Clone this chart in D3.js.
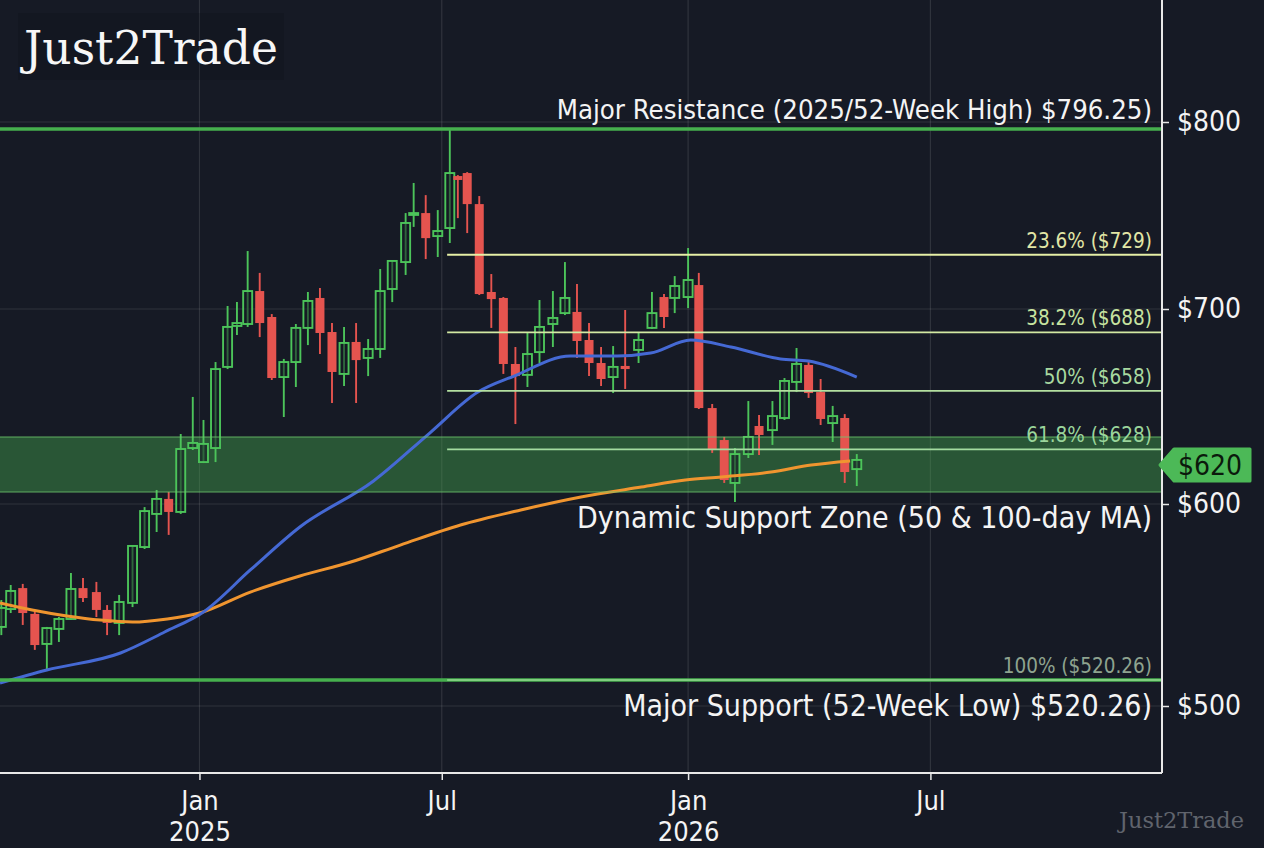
<!DOCTYPE html>
<html lang="en">
<meta charset="utf-8">
<title>Just2Trade</title>
<style>
    html, body { margin: 0; padding: 0; background: #161a25; }
    svg { display: block; }
</style>
<body>
<svg id="canvas"></svg>
<script src="https://cdn.jsdelivr.net/npm/d3@7"></script>
<script>

    ////////////////////// Data ///////////////////////
    var candle_dates = [
        "2024-08-06", "2024-08-13", "2024-08-22", "2024-08-31", "2024-09-09", "2024-09-18",
        "2024-09-27", "2024-10-06", "2024-10-16", "2024-10-24", "2024-11-02", "2024-11-12",
        "2024-11-21", "2024-11-30", "2024-12-09", "2024-12-18", "2024-12-27",
        "2025-01-04", "2025-01-13", "2025-01-22", "2025-01-29", "2025-02-06", "2025-02-15",
        "2025-02-24", "2025-03-05", "2025-03-14", "2025-03-23", "2025-04-01", "2025-04-10",
        "2025-04-19", "2025-04-28", "2025-05-07", "2025-05-16", "2025-05-25", "2025-06-04",
        "2025-06-10", "2025-06-19", "2025-06-28", "2025-07-07", "2025-07-13", "2025-07-20",
        "2025-07-29", "2025-08-07", "2025-08-16", "2025-08-25", "2025-09-03", "2025-09-12",
        "2025-09-22", "2025-10-01", "2025-10-10", "2025-10-19", "2025-10-28", "2025-11-06",
        "2025-11-15", "2025-11-25", "2025-12-05", "2025-12-14", "2025-12-22",
        "2026-01-01", "2026-01-09", "2026-01-19", "2026-01-28", "2026-02-05", "2026-02-15",
        "2026-02-23", "2026-03-05", "2026-03-14", "2026-03-23", "2026-04-01", "2026-04-10",
        "2026-04-19", "2026-04-28", "2026-05-07"
    ];
    var candle_open = [
        544.3, 552.4, 561.9, 550.2, 536.6, 543.4, 547.9, 561.9, 560.1, 552.0, 546.1, 555.2,
        580.5, 595.5, 602.6, 596.4, 628.7, 621.5, 628.7, 670.3, 691.3, 692.3, 709.6, 695.9,
        665.1, 672.8, 690.3, 705.9, 688.2, 666.7, 683.1, 674.9, 679.5, 710.7, 725.1, 750.3,
        751.3, 739.0, 743.3, 771.1, 772.7, 756.1, 709.1, 705.9, 671.8, 666.2, 677.9, 692.3,
        697.9, 698.5, 684.1, 672.3, 665.1, 670.8, 679.0, 690.3, 706.4, 705.9, 706.4, 712.8,
        649.2, 632.8, 610.8, 625.6, 640.0, 637.9, 644.1, 662.6, 671.3, 657.4, 641.5, 644.1,
        617.9
    ];
    var candle_high = [
        556.5, 563.3, 563.8, 551.1, 544.3, 548.8, 568.7, 566.5, 564.7, 554.2, 558.8, 581.4,
        598.6, 607.2, 606.2, 635.9, 654.9, 643.1, 672.8, 701.6, 703.7, 731.0, 719.3, 697.4,
        674.4, 692.3, 709.1, 711.2, 692.8, 690.8, 692.8, 684.6, 721.4, 726.0, 751.3, 767.4,
        760.9, 752.9, 796.25, 771.6, 773.2, 760.4, 718.7, 706.4, 680.5, 687.7, 704.8, 709.6,
        725.1, 713.4, 692.8, 680.5, 681.0, 699.5, 688.2, 709.1, 708.0, 717.6, 732.6, 719.3,
        651.3, 634.4, 628.7, 652.8, 645.6, 652.8, 664.6, 680.0, 672.8, 664.1, 650.3, 646.1,
        625.6
    ];
    var candle_low = [
        540.6, 550.6, 545.2, 533.9, 524.8, 537.5, 547.4, 555.6, 548.8, 540.6, 540.6, 553.3,
        579.6, 587.3, 586.0, 595.5, 627.7, 621.0, 621.5, 669.2, 686.7, 690.8, 685.6, 663.6,
        644.6, 660.0, 681.5, 676.9, 651.8, 660.5, 651.8, 665.6, 674.9, 703.7, 718.2, 743.9,
        726.7, 727.8, 735.3, 748.6, 740.6, 707.5, 690.3, 666.7, 641.0, 660.0, 672.3, 680.5,
        696.9, 674.9, 665.6, 660.5, 656.9, 659.0, 672.3, 689.8, 690.3, 697.9, 700.5, 648.7,
        626.2, 610.8, 601.0, 623.6, 625.1, 630.3, 643.1, 657.4, 654.4, 640.5, 631.8, 610.8,
        609.2
    ];
    var candle_close = [
        552.9, 560.6, 550.6, 536.1, 543.8, 547.9, 561.5, 557.4, 552.0, 546.1, 555.6, 581.0,
        596.8, 602.6, 596.4, 628.2, 631.3, 630.8, 669.2, 690.8, 692.8, 709.6, 692.8, 664.6,
        672.8, 690.3, 704.3, 687.7, 667.7, 682.6, 673.8, 679.5, 709.6, 725.7, 746.0, 751.3,
        737.9, 741.7, 772.7, 769.0, 756.1, 708.0, 705.3, 671.8, 665.6, 676.9, 690.8, 695.4,
        705.9, 683.6, 672.3, 664.1, 670.3, 669.2, 684.1, 697.9, 695.9, 712.3, 715.5, 649.2,
        627.7, 612.3, 625.6, 634.4, 635.4, 645.1, 663.1, 671.8, 656.9, 643.6, 645.1, 616.4,
        622.6
    ];

    // 50-day MA (blue)
    var ma50_dates = [
        "2024-08-05", "2024-09-09", "2024-11-03", "2024-12-06", "2025-01-04", "2025-02-08",
        "2025-03-17", "2025-05-11", "2025-06-22", "2025-07-28", "2025-08-24", "2025-10-05",
        "2025-11-09", "2025-12-04", "2026-01-03", "2026-02-02", "2026-03-11", "2026-04-01",
        "2026-05-07"
    ];
    var ma50_values = [
        517.9, 524.8, 532.5, 542.0, 551.1, 570.1, 589.6, 611.8, 636.4, 657.4, 665.6, 675.9,
        675.9, 677.4, 684.1, 680.5, 674.4, 673.3, 665.1
    ];

    // 100-day MA (orange)
    var ma100_dates = [
        "2024-08-05", "2024-08-29", "2024-09-24", "2024-10-19", "2024-11-12", "2024-12-08",
        "2025-01-01", "2025-02-08", "2025-03-17", "2025-04-24", "2025-05-31", "2025-07-15",
        "2025-08-29", "2025-10-13", "2025-11-27", "2025-12-30", "2026-01-26", "2026-03-04",
        "2026-04-03", "2026-05-02"
    ];
    var ma100_values = [
        555.2, 552.0, 549.3, 547.4, 546.5, 547.9, 550.6, 560.1, 567.4, 573.7, 581.4, 590.5,
        597.3, 603.6, 608.7, 612.3, 613.9, 616.4, 620.0, 622.1
    ];

    var y_ticks      = [500, 600, 700, 800];
    var x_ticks      = ["2025-01-01", "2025-07-01", "2026-01-01", "2026-07-01"];

    var fib_names    = ["23.6%", "38.2%", "50%", "61.8%", "100%"];
    var fib_values   = [729, 688, 658, 628, 520.26];
    var fib_text     = ["($729)", "($688)", "($658)", "($628)", "($520.26)"];
    var fib_start    = "2025-07-05";

    var resistance   = 796.25;
    var support      = 520.26;
    var zone         = [606.2, 634.4];
    var last_price   = 620;
    ///////////////////////////////////////////////////

    ///////// Position and Dimension Variables ////////
    var dimensions   = [1264, 848];
    var plot_right   = 1162;
    var plot_bottom  = 773;
    var body_width   = 9;
    var label_right  = 1152;
    ///////////////////////////////////////////////////

    ///////////////// Style Variables /////////////////
    var BG_color     = '#161a25';
    var grid_color   = 'rgba(255,255,255,0.11)';
    var axis_color   = '#e8e8e8';
    var up_color     = '#4cc45a';
    var down_color   = '#e5544f';
    var ma50_color   = '#4569d4';
    var ma100_color  = '#f0952f';
    var level_color  = '#46b04e';
    var fib_colors   = ['#e6efa6', '#d3e9a3', '#b4e0a0', '#a3dc9f', '#7fce7f'];
    var fib_fonts    = ['#e2e6a6', '#c7e3a0', '#a8d9a0', '#9ad59b', '#8ea38f'];
    var sans         = '"DejaVu Sans Condensed", "DejaVu Sans", sans-serif';
    var serif        = '"DejaVu Serif", serif';
    ///////////////////////////////////////////////////

    var parse = function (s) { return new Date(s); };

    var candles = candle_dates.map(function (d, i) {
        return { date: parse(d), open: candle_open[i], high: candle_high[i],
                 low: candle_low[i], close: candle_close[i] };
    });

    var x = d3.scaleUtc()
        .domain([parse("2024-08-05"), parse("2026-12-21")])
        .range([0, plot_right]);

    // price axis of the picture is not evenly spaced, so we pin it at its marks
    var y = d3.scaleLinear()
        .domain([500, support, 600, 700, 800])
        .range([706, 680, 504, 309, 122]);

    //////////////////// BG layer /////////////////////
    var canvas = d3.select("#canvas")
        .attr('width',  dimensions[0])
        .attr('height', dimensions[1])
        .style('background-color', BG_color);
    ///////////////////////////////////////////////////

    ////////////////////// grid ///////////////////////
    var grid = canvas.append("g");
    grid.selectAll("line.h").data(y_ticks).enter().append("line")
        .attr('x1', 0).attr('x2', plot_right)
        .attr('y1', function (d) { return y(d); })
        .attr('y2', function (d) { return y(d); })
        .attr('stroke', grid_color).attr('stroke-width', 1.2);
    grid.selectAll("line.v").data(x_ticks).enter().append("line")
        .attr('x1', function (d) { return x(parse(d)); })
        .attr('x2', function (d) { return x(parse(d)); })
        .attr('y1', 0).attr('y2', plot_bottom)
        .attr('stroke', grid_color).attr('stroke-width', 1.2);
    ///////////////////////////////////////////////////

    ///////////////// support zone ////////////////////
    canvas.append("rect")
        .attr('x', 0)
        .attr('y', y(zone[1]))
        .attr('width', plot_right)
        .attr('height', y(zone[0]) - y(zone[1]))
        .attr('fill', 'rgba(70,170,78,0.42)');
    ///////////////////////////////////////////////////

    ///////////////////// candles /////////////////////
    var candle = canvas.append("g").selectAll("g")
        .data(candles).enter().append("g");
    candle.append("line")
        .attr('x1', function (d) { return x(d.date); })
        .attr('x2', function (d) { return x(d.date); })
        .attr('y1', function (d) { return y(d.high); })
        .attr('y2', function (d) { return y(d.low); })
        .attr('stroke', function (d) { return d.close >= d.open ? up_color : down_color; })
        .attr('stroke-width', 1.9);
    candle.append("rect")
        .attr('x', function (d) { return x(d.date) - body_width / 2; })
        .attr('y', function (d) { return y(Math.max(d.open, d.close)); })
        .attr('width', body_width)
        .attr('height', function (d) {
            return Math.max(1.5, Math.abs(y(d.open) - y(d.close)));
        })
        .attr('fill', function (d) { return d.close >= d.open ? 'rgba(22,26,37,0.55)' : down_color; })
        .attr('stroke', function (d) { return d.close >= d.open ? up_color : 'none'; })
        .attr('stroke-width', 1.9);
    ///////////////////////////////////////////////////

    ////////////////// moving averages ////////////////
    var ma_line = d3.line()
        .x(function (d) { return x(d[0]); })
        .y(function (d) { return y(d[1]); })
        .curve(d3.curveMonotoneX);
    canvas.append("path")
        .datum(ma100_dates.map(function (d, i) { return [parse(d), ma100_values[i]]; }))
        .attr('d', ma_line)
        .attr('fill', 'none')
        .attr('stroke', ma100_color)
        .attr('stroke-width', 3);
    canvas.append("path")
        .datum(ma50_dates.map(function (d, i) { return [parse(d), ma50_values[i]]; }))
        .attr('d', ma_line)
        .attr('fill', 'none')
        .attr('stroke', ma50_color)
        .attr('stroke-width', 3);
    ///////////////////////////////////////////////////

    ///////////// zone edges, key levels //////////////
    canvas.selectAll("line.zone").data(zone).enter().append("line")
        .attr('x1', 0).attr('x2', plot_right)
        .attr('y1', function (d) { return y(d); })
        .attr('y2', function (d) { return y(d); })
        .attr('stroke', 'rgba(110,200,110,0.55)')
        .attr('stroke-width', 1.5);
    canvas.selectAll("line.level").data([resistance, support]).enter().append("line")
        .attr('x1', 0).attr('x2', plot_right)
        .attr('y1', function (d) { return y(d); })
        .attr('y2', function (d) { return y(d); })
        .attr('stroke', level_color)
        .attr('stroke-width', 3.4);
    ///////////////////////////////////////////////////

    //////////////////// fib levels ///////////////////
    var fib = canvas.append("g").selectAll("g")
        .data(fib_values).enter().append("g");
    fib.append("line")
        .attr('x1', x(parse(fib_start)))
        .attr('x2', plot_right)
        .attr('y1', function (d) { return y(d); })
        .attr('y2', function (d) { return y(d); })
        .attr('stroke', function (d, i) { return fib_colors[i]; })
        .attr('stroke-width', function (d, i) { return i == 4 ? 2.2 : 1.9; });
    fib.append("text")
        .attr('x', label_right)
        .attr('y', function (d) { return y(d) - 7; })
        .text(function (d, i) { return fib_names[i] + " " + fib_text[i]; })
        .attr('text-anchor', 'end')
        .attr('fill', function (d, i) { return fib_fonts[i]; })
        .attr('font-family', sans)
        .attr('font-size', 20.5);
    ///////////////////////////////////////////////////

    ///////////////// annotations /////////////////////
    var notes = [
        { text: "Major Resistance (2025/52-Week High) $796.25)", y: y(resistance) - 10, size: 27.3 },
        { text: "Dynamic Support Zone (50 & 100-day MA)",          y: y(zone[0]) + 36,   size: 30 },
        { text: "Major Support (52-Week Low) $520.26)",            y: y(support) + 36,   size: 30 }
    ];
    canvas.selectAll("text.note").data(notes).enter().append("text")
        .attr('x', label_right)
        .attr('y', function (d) { return d.y; })
        .text(function (d) { return d.text; })
        .attr('text-anchor', 'end')
        .attr('fill', '#f4f4f4')
        .attr('font-family', sans)
        .attr('font-size', function (d) { return d.size; });
    ///////////////////////////////////////////////////

    ////////////////////// axes ///////////////////////
    canvas.append("line")
        .attr('x1', plot_right).attr('x2', plot_right)
        .attr('y1', 0).attr('y2', plot_bottom)
        .attr('stroke', axis_color).attr('stroke-width', 2);
    canvas.append("line")
        .attr('x1', 0).attr('x2', plot_right)
        .attr('y1', plot_bottom).attr('y2', plot_bottom)
        .attr('stroke', axis_color).attr('stroke-width', 2);

    var y_axis = canvas.append("g")
        .attr('transform', 'translate(' + plot_right + ',0)')
        .call(d3.axisRight(y).tickValues(y_ticks).tickSize(7).tickPadding(8)
                .tickFormat(function (d) { return "$" + d; }));
    y_axis.select(".domain").remove();
    y_axis.selectAll("line").attr('stroke', axis_color).attr('stroke-width', 1.5);
    y_axis.selectAll("text")
        .attr('fill', '#f4f4f4')
        .attr('font-family', sans)
        .attr('font-size', 28);

    var x_axis = canvas.append("g")
        .attr('transform', 'translate(0,' + plot_bottom + ')')
        .call(d3.axisBottom(x).tickValues(x_ticks.map(parse)).tickSize(7)
                .tickFormat(function () { return ""; }));
    x_axis.select(".domain").remove();
    x_axis.selectAll("line").attr('stroke', axis_color).attr('stroke-width', 1.5);
    var x_label = x_axis.selectAll(".tick").append("text")
        .attr('fill', '#f4f4f4')
        .attr('font-family', sans)
        .attr('font-size', 27)
        .attr('text-anchor', 'middle');
    x_label.append("tspan")
        .attr('x', 0).attr('y', 37)
        .text(function (d) { return d3.utcFormat("%b")(d); });
    x_label.append("tspan")
        .attr('x', 0).attr('y', 68)
        .text(function (d) { return d.getUTCMonth() == 0 ? d3.utcFormat("%Y")(d) : ""; });
    ///////////////////////////////////////////////////

    //////////////// last price tag ///////////////////
    var tag_y = y(last_price);
    var tag = d3.path();
    tag.moveTo(plot_right - 2, tag_y);
    tag.lineTo(plot_right + 12, tag_y - 16);
    tag.lineTo(1250, tag_y - 16);
    tag.lineTo(1250, tag_y + 16);
    tag.lineTo(plot_right + 12, tag_y + 16);
    tag.closePath();
    canvas.append("path")
        .attr('d', tag.toString())
        .attr('fill', '#4cb957')
        .attr('stroke', '#4cb957')
        .attr('stroke-linejoin', 'round')
        .attr('stroke-width', 3);
    canvas.append("text")
        .attr('x', 1210)
        .attr('y', tag_y)
        .text("$" + last_price)
        .attr('text-anchor', 'middle')
        .attr('dominant-baseline', 'central')
        .attr('fill', '#0b1a0c')
        .attr('font-family', sans)
        .attr('font-size', 28);
    ///////////////////////////////////////////////////

    ///////////////// title, watermark ////////////////
    canvas.append("rect")
        .attr('x', 18).attr('y', 13)
        .attr('width', 266).attr('height', 67)
        .attr('fill', 'rgba(8,11,18,0.18)');
    canvas.append("text")
        .attr('x', 24).attr('y', 64)
        .text("Just2Trade")
        .attr('fill', '#f7f7f7')
        .attr('font-family', serif)
        .attr('font-size', 46)
        .attr('textLength', 254)
        .attr('lengthAdjust', 'spacingAndGlyphs');
    canvas.append("text")
        .attr('x', 1244).attr('y', 828)
        .text("Just2Trade")
        .attr('text-anchor', 'end')
        .attr('fill', '#60646d')
        .attr('font-family', serif)
        .attr('font-size', 22)
        .attr('textLength', 125)
        .attr('lengthAdjust', 'spacingAndGlyphs');
    ///////////////////////////////////////////////////

</script>
</body>
</html>
